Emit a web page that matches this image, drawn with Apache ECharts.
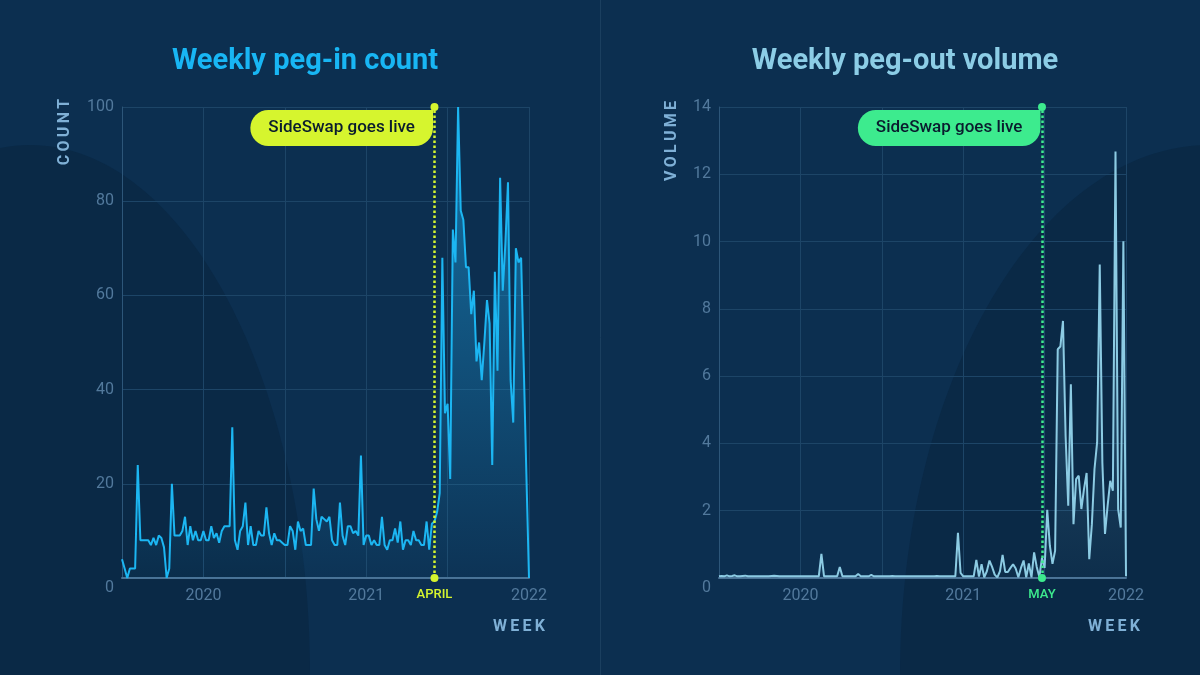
<!DOCTYPE html>
<html style="height: 100%">
<head>
    <meta charset="utf-8">
    <title>SideSwap peg-in / peg-out</title>
    <script src="https://cdn.jsdelivr.net/npm/echarts@6/dist/echarts.min.js"></script>
</head>
<body style="height: 100%; margin: 0; background: #0c2f50">
    <div id="main" style="width: 1200px; height: 675px"></div>
    <script>
        // x = week number, 0 = mid 2019, 155 = start of 2022
        var weekTicks = [0, 31, 62, 93, 124, 155];
        var tickLabels = ['', '2020', '', '2021', '', '2022'];

        var pegInCount = [
            4, 2, 0, 2, 2, 2, 24, 8, 8, 8,
            8, 7, 8.5, 7, 9, 8.5, 6.5, 0, 2, 20,
            9, 9, 9, 10, 13, 7, 11, 8, 10, 8,
            8, 10, 8, 8, 11, 8.5, 9.5, 7.5, 10, 11,
            11, 11, 32, 8, 6, 10, 11, 16, 7, 11,
            7, 7, 10, 9, 9, 15, 9.5, 7, 9.5, 8,
            8, 7.5, 7, 7, 11, 10, 6, 12, 10, 10.5,
            7, 7, 7, 19, 12.5, 10, 13, 12.5, 12, 13,
            8, 7, 7, 16, 9, 7, 11, 11, 9.5, 10,
            9, 26, 7, 9, 9, 7, 8, 7, 7, 13,
            7, 6, 8, 8, 10.5, 7.5, 12, 6, 8, 8,
            7, 10, 8, 8, 7, 7, 12, 6, 11.5, 12,
            14, 18, 68, 35, 37, 21, 74, 67, 100, 78,
            76, 66, 66, 56, 61, 46, 50, 42, 50, 59,
            54, 24, 65, 44, 85, 61, 71, 84, 42, 33,
            70, 67, 68, 45, 22, 0
        ];

        var pegOutVolume = [
            0.05, 0.06, 0.05, 0.08, 0.05, 0.06, 0.08, 0.05, 0.05, 0.06,
            0.07, 0.05, 0.05, 0.05, 0.05, 0.05, 0.05, 0.05, 0.05, 0.05,
            0.06, 0.07, 0.06, 0.05, 0.05, 0.05, 0.05, 0.05, 0.05, 0.05,
            0.05, 0.05, 0.05, 0.05, 0.05, 0.05, 0.05, 0.05, 0.05, 0.72,
            0.05, 0.05, 0.05, 0.05, 0.05, 0.05, 0.33, 0.05, 0.05, 0.05,
            0.05, 0.05, 0.05, 0.12, 0.05, 0.05, 0.05, 0.05, 0.09, 0.05,
            0.05, 0.05, 0.05, 0.05, 0.05, 0.05, 0.06, 0.05, 0.05, 0.05,
            0.05, 0.05, 0.05, 0.05, 0.05, 0.05, 0.05, 0.05, 0.05, 0.05,
            0.05, 0.05, 0.05, 0.06, 0.05, 0.05, 0.05, 0.05, 0.05, 0.05,
            0.05, 1.34, 0.15, 0.05, 0.05, 0.05, 0.05, 0.05, 0.54, 0.04,
            0.41, 0.02, 0.2, 0.52, 0.33, 0.1, 0.02, 0.2, 0.69, 0.18,
            0.18, 0.3, 0.41, 0.28, 0.02, 0.3, 0.52, 0.02, 0.43, 0.02,
            0.76, 0.33, 0.03, 0.6, 0.3, 2.03, 0.96, 0.42, 0.81, 6.8,
            6.88, 7.64, 4.22, 2.15, 5.76, 1.6, 2.94, 3.04, 2.05, 2.64,
            3.12, 0.56, 1.6, 3.24, 4.03, 9.32, 3.43, 1.31, 2.15, 2.89,
            2.59, 12.68, 2.05, 1.5, 10.01, 0.05
        ];

        var pegInLaunchWeek = 119;   // APRIL
        var pegOutLaunchWeek = 123;  // MAY

        var chart = echarts.init(document.getElementById('main'));

        var labelColor = '#52799c';
        var gridColor = '#1d4567';
        var nameColor = '#7fb0d6';
        var font = 'Roboto, sans-serif';

        function xAxisFor(idx) {
            return {
                type: 'value', gridIndex: idx, min: 0, max: 155, interval: 31,
                axisLine: {show: true, lineStyle: {color: '#4a7295', width: 2}},
                axisTick: {show: false},
                splitLine: {show: true, lineStyle: {color: gridColor}},
                axisLabel: {
                    color: labelColor, fontSize: 16, fontFamily: font, margin: 10,
                    formatter: function (v) {
                        var k = weekTicks.indexOf(v);
                        return k < 0 ? '' : tickLabels[k];
                    }
                }
            };
        }

        function yAxisFor(idx, max, interval) {
            return {
                type: 'value', gridIndex: idx, min: 0, max: max, interval: interval,
                axisLine: {show: true, lineStyle: {color: '#2d5679'}},
                axisTick: {show: false},
                splitLine: {show: true, lineStyle: {color: gridColor}},
                axisLabel: {
                    color: labelColor, fontSize: 16, fontFamily: font, margin: 8,
                    formatter: function (v) { return v === 0 ? '{z|0}' : String(v); },
                    rich: {z: {color: labelColor, fontSize: 16, fontFamily: font, padding: [20, 0, 0, 0]}}
                }
            };
        }

        function areaGradient(rgb, top) {
            return new echarts.graphic.LinearGradient(0, 0, 0, 1, [
                {offset: 0, color: 'rgba(' + rgb + ',' + top + ')'},
                {offset: 1, color: 'rgba(' + rgb + ',0.05)'}
            ]);
        }

        function launchMarks(week, yTop, color, monthText) {
            return {
                markLine: {
                    silent: true, animation: false,
                    symbol: ['circle', 'circle'], symbolSize: 8,
                    lineStyle: {color: color, type: 'dotted', width: 2.5},
                    label: {
                        show: true, position: 'start', distance: 10, formatter: monthText,
                        color: color, fontSize: 13, fontWeight: 500, fontFamily: font
                    },
                    data: [{xAxis: week}]
                },
                markPoint: {
                    silent: true, animation: false,
                    symbol: 'circle', symbolSize: 1,
                    itemStyle: {color: 'rgba(0,0,0,0)'},
                    label: {
                        show: true, position: 'left', distance: 0, offset: [-1, 21],
                        formatter: 'SideSwap goes live',
                        backgroundColor: color, borderRadius: [18, 0, 18, 18],
                        padding: [9, 18, 9, 18], lineHeight: 18,
                        color: '#0a1c2e', fontSize: 17, fontWeight: 500, fontFamily: font
                    },
                    data: [{coord: [week, yTop]}]
                }
            };
        }

        var pegInMarks = launchMarks(pegInLaunchWeek, 100, '#d6f52e', 'APRIL');
        var pegOutMarks = launchMarks(pegOutLaunchWeek, 14, '#3deb8e', 'MAY');

        var sp = '\u2009';

        chart.setOption({
            backgroundColor: '#0c2f50',
            animation: false,
            title: [
                {text: 'Weekly peg-in count', left: 300, top: 42, textAlign: 'center',
                    textStyle: {color: '#18b6f4', fontSize: 29, fontWeight: 'bold', fontFamily: font}},
                {text: 'Weekly peg-out volume', left: 900, top: 42, textAlign: 'center',
                    textStyle: {color: '#8ccde6', fontSize: 29, fontWeight: 'bold', fontFamily: font}}
            ],
            graphic: [
                {type: 'ellipse', z: -1, silent: true, shape: {cx: 30, cy: 675, rx: 280, ry: 530},
                    style: {fill: '#0a2946'}},
                {type: 'ellipse', z: -1, silent: true, shape: {cx: 1210, cy: 675, rx: 310, ry: 530},
                    style: {fill: '#0a2946'}},
                {type: 'line', z: -1, silent: true, shape: {x1: 600.5, y1: 0, x2: 600.5, y2: 675},
                    style: {stroke: '#1b3f5f', lineWidth: 1}},
                {type: 'text', x: 65, y: 132, rotation: Math.PI / 2, silent: true,
                    style: {text: ['C', 'O', 'U', 'N', 'T'].join(sp), fill: nameColor, fontSize: 16, fontWeight: 'bold',
                        fontFamily: font, align: 'center', verticalAlign: 'middle'}},
                {type: 'text', x: 672, y: 141, rotation: Math.PI / 2, silent: true,
                    style: {text: ['V', 'O', 'L', 'U', 'M', 'E'].join(sp), fill: nameColor, fontSize: 16, fontWeight: 'bold',
                        fontFamily: font, align: 'center', verticalAlign: 'middle'}},
                {type: 'text', x: 519, y: 627, silent: true,
                    style: {text: ['W', 'E', 'E', 'K'].join(sp), fill: nameColor, fontSize: 16, fontWeight: 'bold',
                        fontFamily: font, align: 'center', verticalAlign: 'middle'}},
                {type: 'text', x: 1114, y: 627, silent: true,
                    style: {text: ['W', 'E', 'E', 'K'].join(sp), fill: nameColor, fontSize: 16, fontWeight: 'bold',
                        fontFamily: font, align: 'center', verticalAlign: 'middle'}}
            ],
            grid: [
                {left: 122, top: 107, width: 407, height: 471},
                {left: 719, top: 107, width: 407, height: 471}
            ],
            xAxis: [xAxisFor(0), xAxisFor(1)],
            yAxis: [yAxisFor(0, 100, 20), yAxisFor(1, 14, 2)],
            series: [
                {
                    name: 'Weekly peg-in count', type: 'line',
                    xAxisIndex: 0, yAxisIndex: 0,
                    symbol: 'none',
                    lineStyle: {color: '#1cb6f2', width: 2},
                    areaStyle: {color: areaGradient('30,165,230', 0.8)},
                    data: pegInCount.map(function (v, i) { return [i, v]; }),
                    markLine: pegInMarks.markLine,
                    markPoint: pegInMarks.markPoint
                },
                {
                    name: 'Weekly peg-out volume', type: 'line',
                    xAxisIndex: 1, yAxisIndex: 1,
                    symbol: 'none',
                    lineStyle: {color: '#8ccbe3', width: 2},
                    areaStyle: {color: areaGradient('120,190,225', 0.5)},
                    data: pegOutVolume.map(function (v, i) { return [i, v]; }),
                    markLine: pegOutMarks.markLine,
                    markPoint: pegOutMarks.markPoint
                }
            ]
        });
    </script>
</body>
</html>
